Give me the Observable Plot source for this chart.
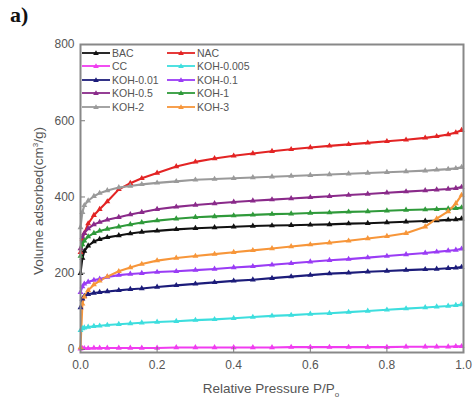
<!DOCTYPE html>
<html>
<head>
<meta charset="utf-8">
<script src="https://cdn.jsdelivr.net/npm/d3@7"></script>
<script src="https://cdn.jsdelivr.net/npm/@observablehq/plot@0.6"></script>
<style>
  html, body { margin: 0; padding: 0; background: #fff; }
  #wrap { position: relative; width: 474px; height: 410px; font-family: "Liberation Sans", Arial, sans-serif; }
  #panel { position: absolute; left: 10px; top: 2px; font-family: "Liberation Serif", "Times New Roman", serif; font-weight: bold; font-size: 22px; color: #111; }
  #ylab { position: absolute; left: 38px; top: 201px; transform: translate(-50%, -50%) rotate(-90deg); white-space: nowrap; font-size: 13.5px; color: #555; }
  #xlab { position: absolute; left: 271px; top: 390px; transform: translate(-50%, -50%); white-space: nowrap; font-size: 13.5px; color: #555; }
  #xlab sub { font-size: 8px; vertical-align: -4px; }
  #ylab sup { font-size: 8px; vertical-align: 5px; line-height: 0; }
  #legend { position: absolute; left: 82px; top: 46px; display: grid; grid-template-columns: 85px 90px; row-gap: 0px; font-size: 10.5px; color: #555; }
  .li { display: flex; align-items: center; height: 13.5px; }
  .li svg { margin-right: 2px; }
</style>
</head>
<body>
<div id="wrap">
  <div id="chart"></div>
  <div id="panel">a)</div>
  <div id="ylab">Volume adsorbed(cm<sup>3</sup>/g)</div>
  <div id="xlab">Relative Pressure P/P<sub>o</sub></div>
  <div id="legend"></div>
</div>
<script>
// Relative pressure points (shared by all series)
const P = [0, 0.005, 0.01, 0.02, 0.035, 0.05, 0.07, 0.1, 0.13, 0.16, 0.2, 0.25, 0.3, 0.35, 0.4, 0.45, 0.5, 0.55, 0.6, 0.65, 0.7, 0.75, 0.8, 0.85, 0.9, 0.93, 0.96, 0.98, 0.995];

const names = ["BAC", "NAC", "CC", "KOH-0.005", "KOH-0.01", "KOH-0.1", "KOH-0.5", "KOH-1", "KOH-2", "KOH-3"];
const colors = ["#111111", "#e32424", "#f03cf0", "#3ddede", "#1c1c7a", "#9a3cf5", "#8a2a8a", "#2f9a3a", "#9a9a9a", "#f7963a"];

const BAC    = [200, 240, 258, 272, 283, 289, 294, 299, 304, 308, 311, 315, 318, 320, 322, 324, 325, 326, 327, 328, 330, 331, 333, 335, 337, 338, 340, 341, 343];
const NAC    = [255, 290, 305, 330, 352, 368, 388, 420, 436, 449, 463, 480, 492, 501, 508, 514, 520, 525, 530, 534, 538, 542, 546, 550, 555, 559, 564, 569, 575];
const CC     = [2, 3, 3, 3, 4, 4, 4, 4, 4, 4, 4, 5, 5, 5, 5, 5, 5, 6, 6, 6, 6, 6, 6, 7, 7, 7, 7, 8, 8];
const KOH0005 = [50, 55, 57, 59, 61, 62, 64, 66, 68, 70, 72, 74, 77, 79, 82, 85, 88, 90, 93, 95, 98, 101, 104, 107, 110, 112, 114, 116, 118];
const KOH001 = [110, 133, 140, 145, 148, 150, 152, 155, 158, 160, 164, 168, 172, 176, 180, 183, 187, 191, 195, 199, 201, 204, 206, 208, 210, 211, 213, 214, 216];
const KOH01  = [150, 165, 172, 177, 182, 185, 190, 195, 198, 200, 203, 205, 208, 211, 215, 218, 222, 226, 230, 234, 237, 241, 245, 249, 253, 256, 259, 261, 264];
const KOH05  = [265, 295, 305, 317, 328, 334, 340, 347, 354, 360, 368, 374, 379, 383, 387, 390, 393, 396, 399, 402, 405, 408, 411, 414, 417, 419, 421, 423, 426];
const KOH1   = [245, 275, 285, 296, 305, 311, 316, 322, 328, 333, 338, 343, 347, 349, 351, 353, 355, 356, 358, 359, 361, 362, 364, 366, 367, 368, 369, 370, 372];
const KOH2   = [320, 360, 378, 390, 402, 410, 417, 425, 429, 433, 437, 441, 445, 447, 449, 451, 453, 455, 457, 459, 461, 463, 465, 467, 469, 471, 473, 475, 478];
const KOH3   = [5, 120, 138, 155, 170, 180, 191, 205, 215, 224, 233, 240, 245, 250, 255, 260, 265, 270, 275, 280, 285, 291, 297, 305, 322, 343, 362, 383, 405];

const xTicks = [0, 0.2, 0.4, 0.6, 0.8, 1.0];
const yTicks = [0, 200, 400, 600, 800];

const seriesValues = [BAC, NAC, CC, KOH0005, KOH001, KOH01, KOH05, KOH1, KOH2, KOH3];
const data = names.flatMap((name, k) => P.map((p, i) => ({name, p, v: seriesValues[k][i]})));

const chart = Plot.plot({
  width: 474,
  height: 410,
  marginLeft: 80,
  marginRight: 11,
  marginTop: 44,
  marginBottom: 58,
  style: {fontFamily: "'Liberation Sans', Arial, sans-serif", fontSize: "12px", color: "#555", background: "#fff"},
  x: {domain: [0, 1]},
  y: {domain: [-8, 800]},
  color: {domain: names, range: colors},
  marks: [
    Plot.line(data, {x: "p", y: "v", z: "name", stroke: "name", strokeWidth: 2.1}),
    Plot.dot(data, {x: "p", y: "v", fill: "name", symbol: "triangle", r: 2.2}),
    Plot.axisX({ticks: xTicks, tickFormat: d3.format(".1f"), tickSize: -5, tickPadding: 13, label: null, stroke: "#777"}),
    Plot.axisY({ticks: yTicks, tickSize: -5, tickPadding: 11, label: null, stroke: "#777"}),
    Plot.frame({stroke: "#888", strokeWidth: 2})
  ]
});
document.getElementById("chart").appendChild(chart);

// Legend (two columns, row-major like the reference)
const legend = document.getElementById("legend");
names.forEach((name, k) => {
  const item = document.createElement("div");
  item.className = "li";
  const c = colors[k];
  item.innerHTML = `<svg width="28" height="8"><line x1="0" y1="4" x2="28" y2="4" stroke="${c}" stroke-width="1.8"/><path d="M14,1.2 L16.8,6 L11.2,6 Z" fill="${c}"/></svg><span>${name}</span>`;
  legend.appendChild(item);
});
</script>
</body>
</html>
